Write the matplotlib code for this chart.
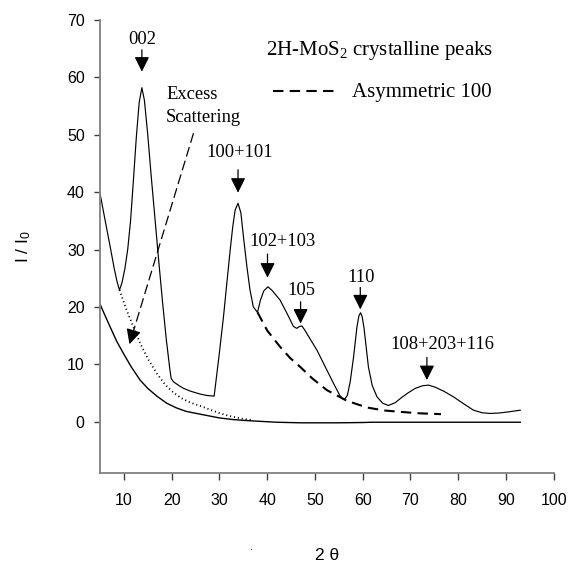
import matplotlib
matplotlib.use("Agg")
import matplotlib.pyplot as plt
import numpy as np

# ---- data ----
main_x = [5.0, 6.0, 7.13, 8.0, 8.6, 9.08, 9.6, 10.2, 10.8, 11.4, 12.0, 12.6, 13.2, 13.77,
          14.3, 15.0, 15.7, 16.5, 17.3, 18.1, 18.9, 19.6, 19.9, 20.4, 21.5, 22.5,
          24.0, 26.0, 27.5, 28.9, 29.9, 30.86, 31.6, 32.26, 32.8, 33.3, 33.9, 34.5,
          35.0, 35.76, 36.4, 37.1, 37.98, 38.6, 39.3, 40.16, 41.0, 42.7, 44.2, 45.5,
          46.2, 46.8, 47.3, 48.0, 49.0, 50.4, 52.2, 53.9, 55.2, 55.8, 56.2, 56.8,
          57.4, 58.1, 58.8, 59.2, 59.55, 59.9, 60.3, 61.2, 62.0, 63.0, 64.2, 65.4, 66.8, 68.0,
          69.3, 71.0, 72.5, 73.8, 75.2, 77.0, 79.0, 81.0, 83.2, 85.0, 86.7, 88.5,
          90.5, 93.0]
main_y = [39.8, 35.4, 30.5, 26.6, 24.3, 22.94, 24.2, 26.6, 30.0, 35.0, 42.1, 49.5, 55.6, 58.2,
          56.0, 50.0, 43.0, 35.5, 28.0, 20.8, 14.2, 9.3, 7.53, 6.94, 6.3, 5.8,
          5.3, 4.8, 4.55, 4.45, 11.3, 18.3, 24.5, 29.9, 34.0, 36.9, 38.06, 36.4,
          32.5, 27.0, 23.0, 20.0, 19.05, 21.2, 22.8, 23.5, 22.9, 21.2, 18.8, 16.6,
          16.26, 16.6, 16.66, 15.8, 14.4, 12.5, 9.5, 6.66, 4.6, 4.0, 3.87, 4.6,
          7.0, 11.3, 16.5, 18.4, 18.98, 18.3, 16.2, 9.56, 6.3, 4.33, 3.2, 2.83, 3.3, 4.1,
          4.9, 5.8, 6.25, 6.37, 6.0, 5.3, 4.33, 3.2, 2.0, 1.55, 1.43, 1.5,
          1.7, 2.0]

base_x = [5.0, 6.0, 7.13, 8.5, 9.9, 11.5, 13.4, 15.0, 16.9, 19.0, 21.0, 23.0, 26.0,
          30.0, 33.0, 36.5, 42.0, 47.0, 55.0, 60.0, 62.0, 93.0]
base_y = [20.5, 18.6, 16.5, 14.0, 11.9, 9.6, 7.24, 5.8, 4.45, 3.2, 2.4, 1.8, 1.3,
          0.65, 0.35, 0.15, -0.1, -0.2, -0.2, -0.15, -0.1, -0.1]

excess_x = [9.08, 10.5, 12.0, 13.5, 15.0, 16.9, 18.5, 20.05, 22.0, 24.0, 26.0, 28.0,
            30.0, 32.0, 34.5, 37.1]
excess_y = [22.94, 19.6, 16.5, 13.5, 11.0, 8.4, 6.6, 5.3, 4.1, 3.3, 2.75, 2.1,
            1.5, 1.0, 0.55, 0.25]

asym_x = [37.98, 40.0, 42.7, 44.8, 46.9, 49.5, 52.5, 56.7, 60.9, 64.5, 67.9, 72.0, 76.4]
asym_y = [19.05, 15.9, 13.05, 11.1, 9.56, 7.5, 5.5, 3.63, 2.47, 1.95, 1.71, 1.45, 1.31]

peak_labels = ["002", "100+101", "102+103", "105", "110", "108+203+116"]
peak_x = [13.77, 33.9, 40.07, 47.0, 59.5, 73.45]
label_x = [13.9, 34.3, 43.2, 47.2, 59.7, 76.7]
label_y = [65.8, 46.2, 30.66, 22.07, 24.39, 12.6]
arrow_top = [64.8, 43.9, 29.2, 20.9, 23.4, 11.2]
arrow_tip = [61.0, 39.9, 25.1, 17.1, 19.57, 7.24]

x_ticks = [10, 20, 30, 40, 50, 60, 70, 80, 90, 100]
y_ticks = [0, 10, 20, 30, 40, 50, 60, 70]

# ---- figure ----
W, H = 574, 563
fig = plt.figure(figsize=(W / 100, H / 100), dpi=100)
ax = fig.add_axes([100 / W, (H - 473.3) / H, 453.7 / W, 453.3 / H])

serif = "Liberation Serif"
sans = "Liberation Sans"

ax.plot(main_x, main_y, color="black", lw=0.85, solid_joinstyle="round")
ax.plot(base_x, base_y, color="black", lw=1.0)
ax.plot(excess_x, excess_y, color="black", lw=1.3, linestyle=(0, (0.6, 1.6)))
ax.plot(asym_x, asym_y, color="black", lw=1.5, linestyle=(0, (5, 3)))

for lab, px, lx, ly, at, tip in zip(peak_labels, peak_x, label_x, label_y, arrow_top, arrow_tip):
    ax.text(lx, ly, lab, ha="center", va="baseline", fontsize=13.3, family=serif)
    ax.annotate("", xy=(px, tip), xytext=(px, at),
                arrowprops=dict(arrowstyle="-|>,head_width=0.45,head_length=0.9",
                                mutation_scale=10, lw=0.9, color="black",
                                shrinkA=0, shrinkB=0))

# Excess scattering dashed arrow
ex_tail = (24.58, 50.27)
ex_tip = (11.17, 13.5)
frac = 0.93
mid = (ex_tail[0] + (ex_tip[0] - ex_tail[0]) * frac, ex_tail[1] + (ex_tip[1] - ex_tail[1]) * frac)
ax.plot([ex_tail[0], mid[0]], [ex_tail[1], mid[1]], color="black", lw=0.9,
        linestyle=(0, (8, 3.5)))
ax.annotate("", xy=ex_tip, xytext=mid,
            arrowprops=dict(arrowstyle="-|>,head_width=0.45,head_length=0.9",
                            mutation_scale=10, lw=0.9, color="black",
                            shrinkA=0, shrinkB=0))
ax.text(18.86, 56.2, "Excess", ha="left", va="baseline", fontsize=13.3, family=serif)
ax.text(18.86, 52.3, "Scattering", ha="left", va="baseline", fontsize=13.3, family=serif)

# key texts
ax.text(39.8, 63.93, r"2H-MoS$\mathregular{_2}$ crystalline peaks", ha="left",
        va="baseline", fontsize=15, family=serif)
ax.plot([41.3, 54.9], [57.7, 57.7], color="black", lw=1.5, linestyle=(0, (5, 3)))
ax.text(57.75, 56.55, "Asymmetric 100", ha="left", va="baseline", fontsize=15, family=serif)

ax.set_xlim(5, 100)
ax.set_ylim(-9, 70)
ax.set_xticks(x_ticks)
ax.set_yticks(y_ticks)
ax.set_xticklabels([str(t) for t in x_ticks], fontsize=11.5, family=sans)
ax.set_yticklabels([str(t) for t in y_ticks], fontsize=11.5, family=sans)
ax.tick_params(axis="x", direction="out", length=5, width=1.0, color="#404040", pad=9)
ax.tick_params(axis="y", direction="out", length=4, width=1.0, color="#404040", pad=7)

for s in ["top", "right"]:
    ax.spines[s].set_visible(False)
for s in ["left", "bottom"]:
    ax.spines[s].set_color("#808080")
    ax.spines[s].set_linewidth(1.3)

ax.set_xlabel("2 θ", fontsize=12.5, family=sans)
ax.xaxis.set_label_coords(0.5, (473.3 - 548.0) / 453.3)
ax.set_ylabel(r"I / I$\mathregular{_0}$", fontsize=12.5, family=sans)
ax.yaxis.set_label_coords((33 - 100) / 453.7, 0.5)

ax.text((251.7 - 100) / 453.7, (473.3 - 551) / 453.3, "·", transform=ax.transAxes,
        ha="center", va="center", fontsize=6, family=sans)

fig.savefig("out.png", dpi=100)
